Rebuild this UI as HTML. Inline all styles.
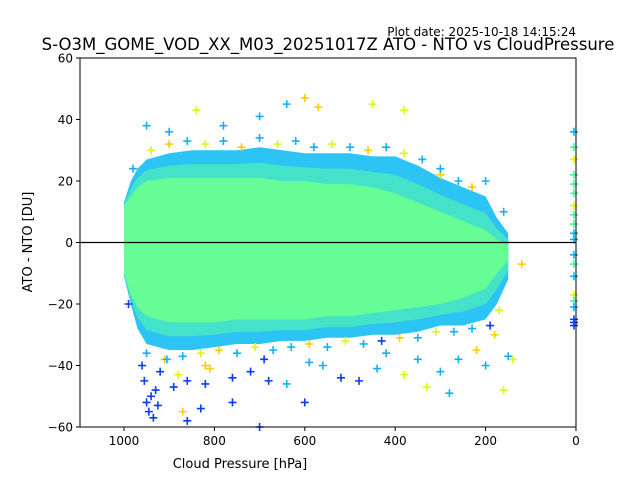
<!DOCTYPE html>
<html><head><meta charset="utf-8">
<style>
html,body{margin:0;padding:0;background:#fff;}
svg{display:block;font-family:"DejaVu Sans","Liberation Sans",sans-serif;}
</style></head>
<body>
<svg id="chart" width="640" height="480" viewBox="0 0 640 480">
<rect x="0" y="0" width="640" height="480" fill="#fff"/>
<text x="576" y="36" text-anchor="end" font-size="12">Plot date: 2025-10-18 14:15:24</text>
<text x="328" y="50" text-anchor="middle" font-size="16.5">S-O3M_GOME_VOD_XX_M03_20251017Z ATO - NTO vs CloudPressure</text>
<g id="marks"></g>
<g id="axes"></g>
<text x="240" y="468" text-anchor="middle" font-size="13">Cloud Pressure [hPa]</text>
<text transform="translate(32,242) rotate(-90)" text-anchor="middle" font-size="13">ATO - NTO [DU]</text>
</svg>
<script>
// ---- data ----
const bandPressure = [1000, 985, 970, 950, 900, 850, 800, 750, 700, 650, 600, 550, 500, 450, 400, 350, 300, 250, 200, 175, 150];
const outerUpper   = [13, 20, 24, 27, 29, 30, 30, 30, 31, 30, 29, 29, 29, 28, 28, 25, 21, 18, 15, 8, 3];
const outerLower   = [-11, -20, -28, -33, -35, -35, -34, -33, -33, -32, -32, -31, -31, -30, -30, -29, -27, -27, -25, -20, -12];
const coreUpper    = [12, 15, 18, 20, 21, 21, 21, 21, 21, 20, 20, 19, 19, 18, 16, 13, 10, 7, 4, 1, -1];
const coreLower    = [-10, -17, -21, -24, -26, -26, -26, -25, -25, -25, -25, -24, -24, -23, -22, -21, -20, -18, -15, -10, -6];
const outlierP     = [950,945,940,935,930,925,960,955,920,905,890,880,870,860,830,820,810,760,720,690,640,600,590,560,520,480,440,420,380,350,330,300,280,260,220,200,180,160,150,140,950,900,840,780,700,640,600,570,450,380,300,200,160,120,860,820,760,700,680];
const outlierV     = [-52,-55,-50,-57,-48,-53,-40,-45,-42,-38,-47,-43,-55,-45,-54,-46,-41,-44,-42,-38,-46,-52,-39,-40,-44,-45,-41,-36,-43,-38,-47,-42,-49,-38,-35,-40,-30,-48,-37,-38,38,36,43,38,41,45,47,44,45,43,24,20,10,-7,-58,-40,-52,-60,-45];
const outlierC     = [0,0,0,0,0,0,0,0,0,1,0,2,3,0,0,0,3,0,0,0,1,0,1,1,0,0,1,1,2,1,2,1,1,1,3,1,3,2,1,2,1,1,2,1,1,1,3,3,2,2,1,1,1,3,0,3,0,0,0];
const edgeP        = [980,940,900,860,820,780,740,700,660,620,580,540,500,460,420,380,340,300,260,230,990,950,910,870,830,790,750,710,670,630,590,550,510,470,430,390,350,310,270,230,190,170];
const edgeV        = [24,30,32,33,32,33,31,34,32,33,31,32,31,30,31,29,27,22,20,18,-20,-36,-38,-37,-36,-35,-36,-34,-35,-34,-33,-34,-32,-33,-32,-31,-31,-29,-29,-28,-27,-22];
const edgeCl       = [1,2,3,1,2,1,3,1,2,1,1,2,1,3,1,2,1,3,1,3,0,1,3,1,2,3,1,2,1,1,3,1,2,1,0,3,1,2,1,1,0,2];
const zeroV        = [36,31,27,22,19,16,12,9,6,3,1,-4,-7,-11,-17,-19,-21,-25,-26,-27];
const zeroC        = [1,2,3,2,2,2,3,2,2,1,1,1,2,1,3,2,1,0,0,0];
const xTicks = [1000, 800, 600, 400, 200, 0];
const yTicks = [-60, -40, -20, 0, 20, 40, 60];

// ---- scales ----
const L=80,R=576,T=58,B=427;
const xMin=1097.3,xMax=0,yMin=-60,yMax=60;
function sx(p){return L+(p-xMin)/(xMax-xMin)*(R-L);}
function sy(v){return B-(v-yMin)/(yMax-yMin)*(B-T);}
const NS="http://www.w3.org/2000/svg";
const palette=["#0a3cff","#10b0ff","#dcf512","#ffcc00"];
const marks=document.getElementById('marks');
const axes=document.getElementById('axes');
function mk(tag,attrs,parent){const e=document.createElementNS(NS,tag);for(const k in attrs)e.setAttribute(k,attrs[k]);parent.appendChild(e);return e;}

function band(up,lo,fill,name){
  let pts=[];
  for(let i=0;i<bandPressure.length;i++)pts.push(sx(bandPressure[i]).toFixed(1)+","+sy(up[i]).toFixed(1));
  for(let i=bandPressure.length-1;i>=0;i--)pts.push(sx(bandPressure[i]).toFixed(1)+","+sy(lo[i]).toFixed(1));
  const e=mk('polygon',{points:pts.join(' '),fill:fill},marks);
  
  
}
band(outerUpper,outerLower,"#2cc4f4","outer-scatter-band");
const midU=outerUpper.map((v,i)=>(v+coreUpper[i])/2), midL=outerLower.map((v,i)=>(v+coreLower[i])/2);
band(midU,midL,"#44e2c8","middle-scatter-band");
band(coreUpper,coreLower,"#66fc96","core-scatter-band");

function plus(x,y,c,name){
  const e=mk('path',{d:`M${x-4},${y}h8M${x},${y-4}v8`,stroke:c,'stroke-width':1.6,fill:'none'},marks);
  
  
}
for(let i=0;i<edgeP.length;i++)plus(sx(edgeP[i]),sy(edgeV[i]),palette[edgeCl[i]],'band-edge-point');
for(let i=0;i<outlierP.length;i++)plus(sx(outlierP[i]),sy(outlierV[i]),palette[outlierC[i]],'outlier-point');
const zeroCols=["#0a3cff","#10b0ff","#50f0a0","#dcf512"];
for(let i=0;i<zeroV.length;i++)plus(R-2,sy(zeroV[i]),zeroCols[zeroC[i]],'zero-pressure-point');

const zl=mk('line',{x1:L,x2:R,y1:sy(0),y2:sy(0),stroke:'#000','stroke-width':1.2},axes);


const fr=mk('rect',{x:L,y:T,width:R-L,height:B-T,fill:'none',stroke:'#000','stroke-width':1},axes);


xTicks.forEach(t=>{
  const x=sx(t);
  const l=mk('line',{x1:x,x2:x,y1:B,y2:B+4,stroke:'#000'},axes);
  
  
  const tx=mk('text',{x:x,y:B+18,'text-anchor':'middle','font-size':12},axes);
  tx.textContent=t;
  
  
});
yTicks.forEach(t=>{
  const y=sy(t);
  const l=mk('line',{x1:L-4,x2:L,y1:y,y2:y,stroke:'#000'},axes);
  
  
  const tx=mk('text',{x:L-7,y:y+4.5,'text-anchor':'end','font-size':12},axes);
  tx.textContent=(t<0?'\u2212'+(-t):t);
  
  
});
</script>
</body></html>
